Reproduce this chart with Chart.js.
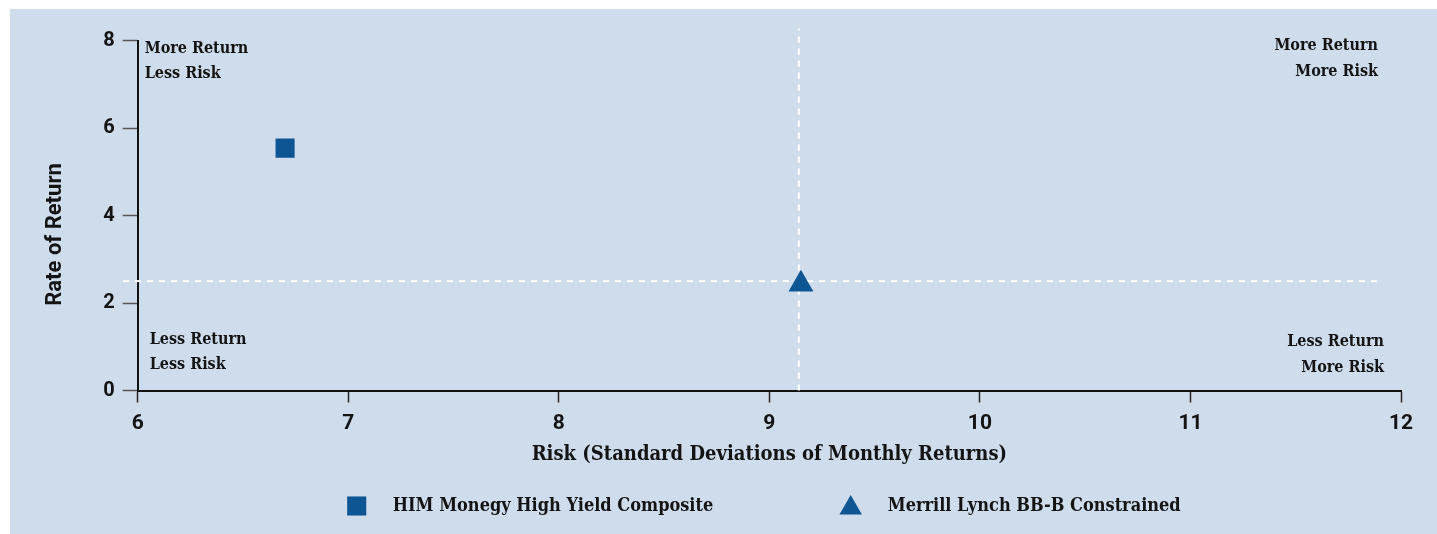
<!DOCTYPE html>
<html>
<head>
<meta charset="utf-8">
<script src="https://cdn.jsdelivr.net/npm/chart.js@4/dist/chart.umd.min.js"></script>
<style>
  html, body { margin: 0; padding: 0; background: #ffffff; width: 1437px; height: 534px; overflow: hidden; }
  #wrap { position: absolute; left: 10px; top: 9px; width: 1427px; height: 525px; background: #cfdcec; }
  canvas { display: block; }
</style>
</head>
<body>
<div id="wrap"><canvas id="c"></canvas></div>
<script>
// ---- data ----
const fundNames = ['HIM Monegy High Yield Composite', 'Merrill Lynch BB-B Constrained'];
const fundStyles = ['rect', 'triangle'];
const riskValues = [6.70, 9.15];
const returnValues = [5.54, 2.43];
const benchmarkRisk = 9.14;
const benchmarkReturn = 2.5;
const hLineRisk = [5.93, 11.9];
const vLineReturn = [0, 8.27];
const xTickValues = [6, 7, 8, 9, 10, 11, 12];
const yTickValues = [0, 2, 4, 6, 8];
const xTitle = 'Risk (Standard Deviations of Monthly Returns)';
const yTitle = 'Rate of Return';
const quadrantLabels = {
  tl: ['More Return', 'Less Risk'],
  tr: ['More Return', 'More Risk'],
  bl: ['Less Return', 'Less Risk'],
  br: ['Less Return', 'More Risk']
};

const MARK = '#0d5693';
const INK = '#141414';
const SLAB = '"DejaVu Serif Condensed", "DejaVu Serif", serif';
const SANS = 'Roboto, "Liberation Sans", sans-serif';

function drawMarker(ctx, style, x, y, r) {
  ctx.save();
  ctx.fillStyle = MARK;
  ctx.beginPath();
  if (style === 'rect') {
    const s = r * Math.SQRT1_2;
    ctx.rect(x - s, y - s, 2 * s, 2 * s);
  } else {
    ctx.moveTo(x, y - r);
    ctx.lineTo(x + r * Math.sin(Math.PI / 3), y + r / 2);
    ctx.lineTo(x - r * Math.sin(Math.PI / 3), y + r / 2);
    ctx.closePath();
  }
  ctx.fill();
  ctx.restore();
}

const overlayPlugin = {
  id: 'overlay',
  afterDraw(chart) {
    const ctx = chart.ctx;
    const xs = chart.scales.x, ys = chart.scales.y;
    const L = xs.getPixelForValue(xs.min), R = xs.getPixelForValue(xs.max);
    const T = ys.getPixelForValue(ys.max), B = ys.getPixelForValue(ys.min);
    ctx.save();
    ctx.fillStyle = INK;
    ctx.font = 'bold 16px ' + SLAB;
    ctx.textBaseline = 'middle';
    // quadrant labels
    ctx.textAlign = 'left';
    ctx.fillText(quadrantLabels.tl[0], L + 7, T + 8);
    ctx.fillText(quadrantLabels.tl[1], L + 7, T + 33);
    ctx.fillText(quadrantLabels.bl[0], L + 12, B - 51);
    ctx.fillText(quadrantLabels.bl[1], L + 12, B - 26);
    ctx.textAlign = 'right';
    ctx.fillText(quadrantLabels.tr[0], R - 23, T + 5);
    ctx.fillText(quadrantLabels.tr[1], R - 23, T + 31);
    ctx.fillText(quadrantLabels.br[0], R - 17, B - 49);
    ctx.fillText(quadrantLabels.br[1], R - 17, B - 23);

    // y-axis title
    ctx.save();
    ctx.translate(L - 82, B - 156);
    ctx.rotate(-Math.PI / 2);
    ctx.textAlign = 'center';
    ctx.font = 'bold 22px ' + SANS;
    ctx.fillText(yTitle, 0, 0);
    ctx.restore();

    // legend
    ctx.font = 'bold 18px ' + SLAB;
    ctx.textAlign = 'left';
    const ly = 497;
    const items = [
      { mx: L + 219, tx: L + 255, dy: 0, r: 13.5 },
      { mx: L + 713, tx: L + 750, dy: 2, r: 13 }
    ];
    fundNames.forEach((name, i) => {
      drawMarker(ctx, fundStyles[i], items[i].mx, ly + items[i].dy, items[i].r);
      ctx.fillText(name, items[i].tx, ly);
    });
    ctx.restore();
  }
};

new Chart(document.getElementById('c'), {
  type: 'scatter',
  data: {
    datasets: [
      {
        label: 'hline',
        type: 'line',
        data: hLineRisk.map(v => ({ x: v, y: benchmarkReturn })),
        borderColor: '#ffffff',
        borderWidth: 2,
        borderDash: [6, 6],
        pointRadius: 0,
        clip: false,
        order: 3
      },
      {
        label: 'vline',
        type: 'line',
        data: vLineReturn.map(v => ({ x: benchmarkRisk, y: v })),
        borderColor: '#ffffff',
        borderWidth: 2,
        borderDash: [6, 6],
        pointRadius: 0,
        clip: false,
        order: 3
      },
      {
        label: fundNames[0],
        data: [{ x: riskValues[0], y: returnValues[0] }],
        pointStyle: fundStyles[0],
        pointRadius: 13.5,
        backgroundColor: MARK,
        borderWidth: 0,
        order: 1
      },
      {
        label: fundNames[1],
        data: [{ x: riskValues[1], y: returnValues[1] }],
        pointStyle: fundStyles[1],
        pointRadius: 14.4,
        backgroundColor: MARK,
        borderWidth: 0,
        order: 1
      }
    ]
  },
  options: {
    responsive: true,
    maintainAspectRatio: false,
    animation: false,
    events: [],
    layout: { padding: { left: 20, right: 36, top: 31.5, bottom: 60 } },
    plugins: { legend: { display: false }, tooltip: { enabled: false } },
    scales: {
      x: {
        type: 'linear',
        min: xTickValues[0],
        max: xTickValues[xTickValues.length - 1],
        afterBuildTicks: s => { s.ticks = xTickValues.map(v => ({ value: v })); },
        afterFit: s => { s.height = 83.5; },
        border: { display: true, color: '#111', width: 2 },
        grid: { drawOnChartArea: false, drawTicks: true, tickLength: 12, tickColor: '#222', tickWidth: 1.5 },
        ticks: { color: INK, font: { family: SANS, size: 21, weight: 'bold' }, padding: 9, maxRotation: 0 },
        title: { display: true, text: xTitle, color: INK, font: { family: SLAB, size: 20, weight: 'bold' }, padding: { top: 0, bottom: 7 } }
      },
      y: {
        type: 'linear',
        min: yTickValues[0],
        max: yTickValues[yTickValues.length - 1],
        afterBuildTicks: s => { s.ticks = yTickValues.map(v => ({ value: v })); },
        afterFit: s => { s.width = 107.7; },
        border: { display: true, color: '#111', width: 2 },
        grid: { drawOnChartArea: false, drawTicks: true, tickLength: 15, tickColor: '#555', tickWidth: 1.5 },
        ticks: { color: INK, font: { family: SANS, size: 20, weight: 'bold' }, padding: 8 },
        title: { display: false }
      }
    }
  },
  plugins: [overlayPlugin]
});
</script>
</body>
</html>
